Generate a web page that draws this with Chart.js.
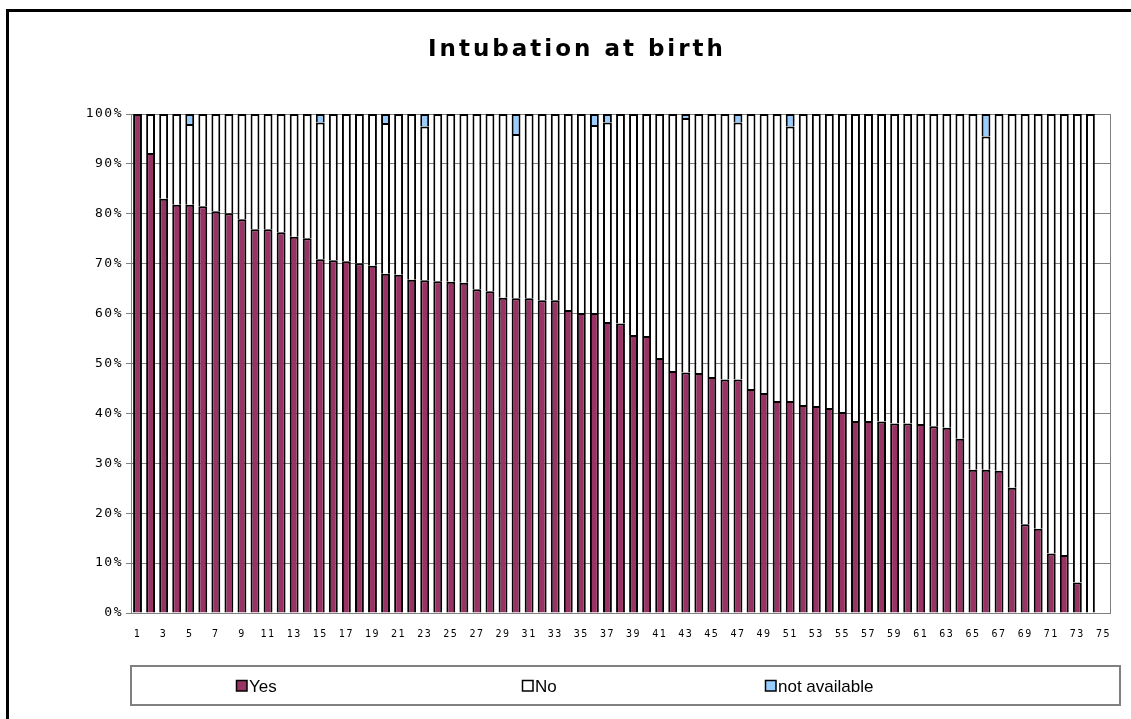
<!DOCTYPE html>
<html>
<head>
<meta charset="utf-8">
<script src="https://cdn.jsdelivr.net/npm/chart.js@4.4.1/dist/chart.umd.min.js"></script>
<style>
  html, body { margin: 0; padding: 0; background: #fff; }
  #wrap { width: 1131px; height: 719px; position: relative; }
</style>
</head>
<body>
<div id="wrap"><canvas id="c" width="1131" height="719"></canvas></div>
<script>
const chartTitle = "Intubation at birth";
const categories = ["1","2","3","4","5","6","7","8","9","10","11","12","13","14","15","16","17","18","19","20","21","22","23","24","25","26","27","28","29","30","31","32","33","34","35","36","37","38","39","40","41","42","43","44","45","46","47","48","49","50","51","52","53","54","55","56","57","58","59","60","61","62","63","64","65","66","67","68","69","70","71","72","73","74","75"];
const seriesNames = ["Yes", "No", "not available"];
const yesValues = [100,92.2,83.0,81.8,81.8,81.5,80.5,80.1,78.9,76.9,76.9,76.3,75.4,75.1,70.9,70.7,70.5,70.1,69.6,68.0,67.8,66.8,66.7,66.5,66.4,66.2,64.9,64.5,63.2,63.1,63.1,62.7,62.7,60.7,60.1,60.1,58.3,58.0,55.7,55.5,51.1,48.5,48.2,48.1,47.3,46.8,46.8,44.9,44.1,42.5,42.5,41.7,41.5,41.1,40.3,38.5,38.5,38.4,38.0,38.0,37.9,37.4,37.1,34.9,28.7,28.7,28.5,25.1,17.8,16.9,11.9,11.6,6.1,0,null];
const noValues = [0,7.8,17.0,18.2,16.2,18.5,19.5,19.9,21.1,23.1,23.1,23.7,24.6,24.9,27.4,29.3,29.5,29.9,30.4,30.2,32.2,33.2,30.8,33.5,33.6,33.8,35.1,35.5,36.8,32.9,36.9,37.3,37.3,39.3,39.9,37.7,40.0,42.0,44.3,44.5,48.9,51.5,51.0,51.9,52.7,53.2,51.5,55.1,55.9,57.5,55.0,58.3,58.5,58.9,59.7,61.5,61.5,61.6,62.0,62.0,62.1,62.6,62.9,65.1,71.3,66.8,71.5,74.9,82.2,83.1,88.1,88.4,93.9,100,null];
const naValues = [0,0,0,0,2.0,0,0,0,0,0,0,0,0,0,1.7,0,0,0,0,1.8,0,0,2.5,0,0,0,0,0,0,4.0,0,0,0,0,0,2.2,1.7,0,0,0,0,0,0.8,0,0,0,1.7,0,0,0,2.5,0,0,0,0,0,0,0,0,0,0,0,0,0,0,4.5,0,0,0,0,0,0,0,0,null];
const yTickValues = [0,10,20,30,40,50,60,70,80,90,100];

const colors = { yes: "#993366", no: "#FFFFFF", na: "#99CCFF" };

const deco = {
  id: "deco",
  beforeDraw(chart) {
    try { chart.ctx.letterSpacing = "1.5px"; } catch (e) {}
  },
  afterDraw(chart) {
    const ctx = chart.ctx;
    const a = chart.chartArea;
    ctx.save();
    try { ctx.letterSpacing = "0px"; } catch (e) {}
    // plot right border
    ctx.strokeStyle = "#808080";
    ctx.lineWidth = 1;
    ctx.beginPath();
    ctx.moveTo(Math.round(a.right) + 0.5, a.top);
    ctx.lineTo(Math.round(a.right) + 0.5, a.bottom);
    ctx.stroke();
    // outer frame
    ctx.strokeStyle = "#000";
    ctx.lineWidth = 3;
    ctx.strokeRect(7.5, 10.5, 1400, 1000);
    // title
    ctx.fillStyle = "#000";
    ctx.font = 'bold 23px "DejaVu Sans"';
    ctx.textAlign = "center";
    ctx.textBaseline = "middle";
    try { ctx.letterSpacing = "3px"; } catch (e) {}
    ctx.fillText(chartTitle, 577, 50);
    try { ctx.letterSpacing = "0px"; } catch (e) {}
    // legend box
    ctx.strokeStyle = "#808080";
    ctx.lineWidth = 2;
    ctx.strokeRect(131, 666, 989, 39);
    const items = [
      { x: 236, label: seriesNames[0], color: colors.yes },
      { x: 522, label: seriesNames[1], color: colors.no },
      { x: 765, label: seriesNames[2], color: colors.na }
    ];
    ctx.font = '17px "Liberation Sans"';
    ctx.textAlign = "left";
    ctx.textBaseline = "middle";
    items.forEach(it => {
      ctx.fillStyle = it.color;
      ctx.fillRect(it.x, 680, 11, 11);
      ctx.strokeStyle = "#000";
      ctx.lineWidth = 1.5;
      ctx.strokeRect(it.x + 0.5, 680.5, 10.5, 10.5);
      ctx.fillStyle = "#000";
      ctx.fillText(it.label, it.x + 13, 687);
    });
    ctx.restore();
  }
};

const ds = (label, data, color) => ({
  label, data,
  backgroundColor: color,
  borderColor: "#000",
  borderWidth: 2,
  categoryPercentage: 1.0,
  barPercentage: 0.68
});

new Chart(document.getElementById("c"), {
  type: "bar",
  data: {
    labels: categories,
    datasets: [
      ds(seriesNames[0], yesValues, colors.yes),
      ds(seriesNames[1], noValues, colors.no),
      ds(seriesNames[2], naValues, colors.na)
    ]
  },
  options: {
    responsive: false,
    animation: false,
    devicePixelRatio: 1,
    layout: { padding: { left: 0, right: 21, top: 114, bottom: 76 } },
    plugins: {
      legend: { display: false },
      title: { display: false },
      tooltip: { enabled: false }
    },
    scales: {
      x: {
        stacked: true,
        grid: { display: false },
        border: { color: "#808080", width: 1 },
        ticks: {
          autoSkip: false,
          maxRotation: 0,
          padding: 7,
          color: "#000",
          font: { family: '"DejaVu Sans Mono"', size: 10 },
          callback: function (v, i) { return i % 2 === 0 ? categories[i] : ""; }
        },
        afterFit(s) { s.height = 30; }
      },
      y: {
        stacked: true,
        min: 0, max: 100,
        afterBuildTicks(s) { s.ticks = yTickValues.map(v => ({ value: v })); },
        grid: { color: "#808080", tickLength: 5, lineWidth: 1 },
        border: { color: "#808080", width: 1 },
        ticks: {
          padding: 3,
          color: "#000",
          font: { family: '"DejaVu Sans Mono"', size: 13 },
          callback: v => v + "%"
        },
        afterFit(s) { s.width = 131; }
      }
    }
  },
  plugins: [deco]
});
</script>
</body>
</html>
